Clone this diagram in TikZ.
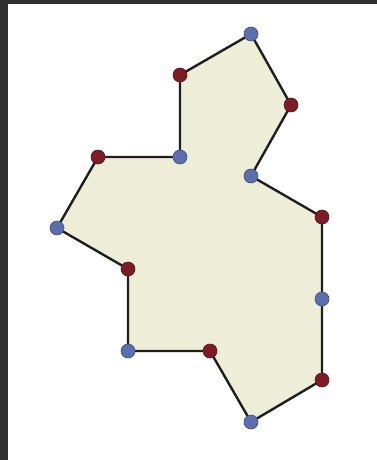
\documentclass[tikz,border=0pt]{standalone}
\usetikzlibrary{backgrounds}

\definecolor{polyfill}{RGB}{238,238,216}
\definecolor{dotblue}{RGB}{92,110,174}
\definecolor{dotred}{RGB}{123,28,39}
\definecolor{framegray}{RGB}{48,48,48}
\definecolor{edgeblack}{RGB}{30,30,30}

\tikzset{
    bluedot/.style={circle, draw=dotblue!70!black, fill=dotblue, line width=0.6pt, inner sep=0pt, minimum size=14pt},
    reddot/.style={circle, draw=dotred!70!black, fill=dotred, line width=0.6pt, inner sep=0pt, minimum size=14pt},
    edge/.style={draw=edgeblack, line width=2.4pt, line join=round}
}

\begin{document}
\begin{tikzpicture}[x=1pt, y=-1pt]
        \useasboundingbox (0,0) rectangle (377,460);

        % Вершины (по часовой стрелке, начиная сверху)
        \node[bluedot] (v1) at (251, 34) {};  \node[reddot] (v2) at (291, 105) {};
        \node[bluedot] (v3) at (251, 176) {}; \node[reddot] (v4) at (322, 217) {};
        \node[bluedot] (v5) at (322, 299) {}; \node[reddot] (v6) at (322, 380) {};
        \node[bluedot] (v7) at (251, 422) {}; \node[reddot] (v8) at (210, 351) {};
        \node[bluedot] (v9) at (128, 351) {}; \node[reddot] (v10) at (128, 269) {};
        \node[bluedot] (v11) at (57, 228) {}; \node[reddot] (v12) at (98, 157) {};
        \node[bluedot] (v13) at (180, 157) {}; \node[reddot] (v14) at (180, 75) {};

        \begin{scope}[on background layer]
            % Рамка и поле
            \fill[white] (0,0) rectangle (377,460);
            \fill[framegray] (0,0) rectangle (377,4);
            \fill[framegray] (0,0) rectangle (8,460);

            % Многоугольник под вершинами
            \filldraw[edge, fill=polyfill] (v1.center) -- (v2.center) -- (v3.center) -- (v4.center)
                -- (v5.center) -- (v6.center) -- (v7.center) -- (v8.center) -- (v9.center)
                -- (v10.center) -- (v11.center) -- (v12.center) -- (v13.center) -- (v14.center) -- cycle;
        \end{scope}

\end{tikzpicture}
\end{document}
